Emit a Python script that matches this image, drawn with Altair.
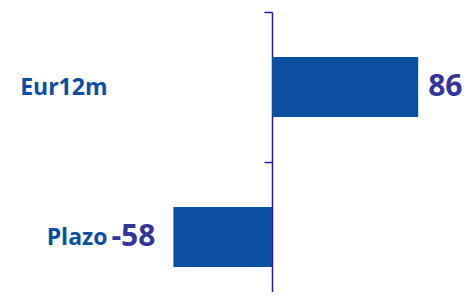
import altair as alt
import pandas as pd

categories = ["Eur12m", "Plazo"]
values = [86, -58]

df = pd.DataFrame({"cat": categories, "value": values})

BAR = "#0b4fa0"
AXIS = "#1c1c9c"
LABEL = "#34349a"
FONT = "Open Sans"

x_scale = alt.Scale(domain=[-100, 100])
y_enc = alt.Y(
    "cat:N",
    sort=None,
    scale=alt.Scale(paddingInner=0, paddingOuter=0, range=[0, 300]),
    axis=alt.Axis(
        title=None,
        orient="left",
        offset=-170,
        tickBand="extent",
        tickSize=8,
        tickColor=AXIS,
        tickWidth=1.5,
        domainColor=AXIS,
        domainWidth=1.5,
        labelPadding=157,
        labelFont=FONT,
        labelFontSize=23,
        labelFontWeight="bold",
        labelColor=BAR,
    ),
)

base = alt.Chart(df).transform_calculate(label="'' + datum.value")

bars = base.mark_bar(size=60, color=BAR).encode(
    x=alt.X("value:Q", scale=x_scale, axis=None),
    y=y_enc,
)

pos = base.transform_filter("datum.value >= 0").mark_text(
    align="left", baseline="middle", dx=10, font=FONT, fontSize=30,
    fontWeight="bold", color=LABEL,
).encode(x=alt.X("value:Q", scale=x_scale), y=alt.Y("cat:N", sort=None), text="label:N")

neg = base.transform_filter("datum.value < 0").mark_text(
    align="right", baseline="middle", dx=-18, font=FONT, fontSize=30,
    fontWeight="bold", color=LABEL,
).encode(x=alt.X("value:Q", scale=x_scale), y=alt.Y("cat:N", sort=None), text="label:N")

chart = alt.layer(bars, pos, neg).properties(
    width=340,
    height=280,
    autosize=alt.AutoSizeParams(type="none"),
    padding={"left": 94, "top": 4, "right": 23, "bottom": 0},
).configure_view(stroke=None)

chart.save("out.html", embed_options={"renderer": "svg", "actions": False})
